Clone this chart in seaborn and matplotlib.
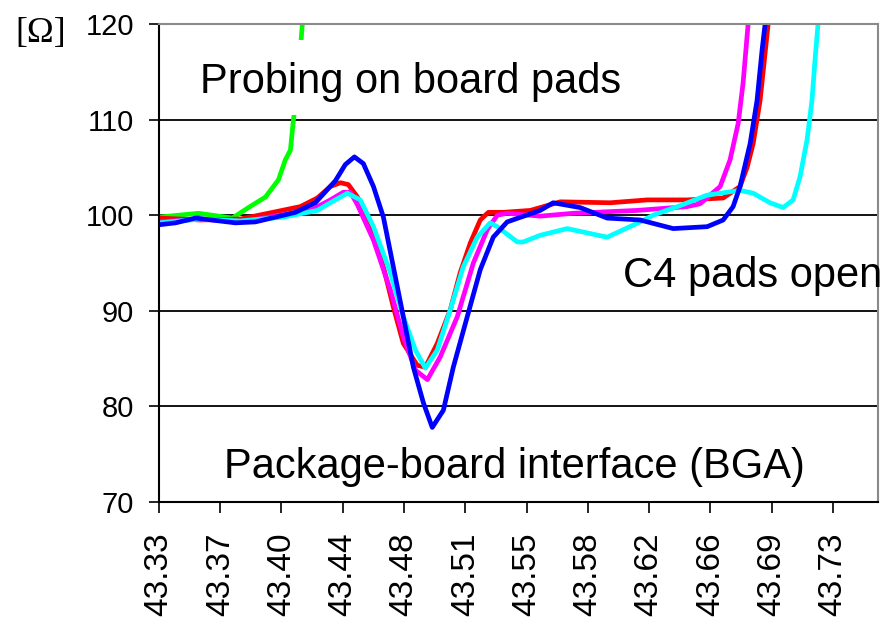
import matplotlib
matplotlib.use("Agg")
import matplotlib.pyplot as plt
import seaborn as sns
import pandas as pd
from matplotlib.patches import Rectangle

# ---------------- data ----------------
trace_names = ["green", "red", "magenta", "cyan", "blue"]
trace_colors = ["#00ff00", "#ff0000", "#ff00ff", "#00ffff", "#0000ff"]

green_x = [43.3300, 43.3534, 43.3736, 43.3831, 43.3932, 43.4009, 43.4050, 43.4080,
           43.4098, 43.4122, 43.4139, 43.4151, 43.4157]
green_y = [99.8, 100.2, 99.7, 100.8, 101.9, 103.7, 105.8, 106.8,
           110.0, 113.1, 117.3, 120.0, 120.9]

red_x = [43.3300, 43.3546, 43.3783, 43.4003, 43.4139, 43.4240, 43.4317, 43.4377,
         43.4424, 43.4478, 43.4573, 43.4632, 43.4691, 43.4750, 43.4833, 43.4881,
         43.4952, 43.5029, 43.5088, 43.5148, 43.5207, 43.5255, 43.5344, 43.5504,
         43.5682, 43.5978, 43.6198, 43.6435, 43.6649, 43.6749, 43.6791, 43.6827,
         43.6868, 43.6898, 43.6916, 43.6922]
red_y = [99.7, 99.5, 99.6, 100.4, 100.9, 101.8, 103.0, 103.4,
         103.2, 101.9, 98.1, 94.6, 90.4, 86.6, 84.3, 84.1,
         86.6, 90.1, 94.0, 97.1, 99.5, 100.3, 100.3, 100.5,
         101.4, 101.3, 101.6, 101.6, 101.8, 103.0, 105.0, 107.5,
         112.0, 117.0, 120.0, 120.9]

magenta_x = [43.3300, 43.3546, 43.3783, 43.4021, 43.4199, 43.4317, 43.4394, 43.4436,
             43.4478, 43.4573, 43.4673, 43.4750, 43.4822, 43.4893, 43.4970, 43.5071,
             43.5166, 43.5249, 43.5308, 43.5367, 43.5563, 43.5759, 43.6138, 43.6435,
             43.6512, 43.6631, 43.6690, 43.6738, 43.6767, 43.6797, 43.6803]
magenta_y = [99.3, 99.6, 99.3, 100.0, 100.5, 101.6, 102.4, 102.4,
             101.1, 97.4, 92.2, 87.3, 83.8, 82.8, 85.2, 89.4,
             95.0, 98.5, 100.0, 100.2, 99.9, 100.2, 100.5, 100.9,
             101.2, 103.0, 105.8, 109.6, 113.8, 120.0, 120.9]

cyan_x = [43.3300, 43.3546, 43.3783, 43.4039, 43.4240, 43.4317, 43.4418, 43.4495,
          43.4573, 43.4673, 43.4750, 43.4822, 43.4881, 43.4952, 43.5029, 43.5106,
          43.5189, 43.5266, 43.5308, 43.5427, 43.5462, 43.5563, 43.5723, 43.5960,
          43.6156, 43.6233, 43.6393, 43.6554, 43.6749, 43.6827, 43.6927, 43.7005,
          43.7064, 43.7105, 43.7147, 43.7176, 43.7194, 43.7212, 43.7218]
cyan_y = [99.2, 99.6, 99.4, 99.8, 100.5, 101.3, 102.3, 101.6,
          98.8, 94.0, 89.4, 85.9, 84.0, 85.9, 90.1, 94.6,
          97.7, 99.2, 98.8, 97.2, 97.2, 97.9, 98.6, 97.7,
          99.3, 100.0, 101.0, 102.1, 102.6, 102.3, 101.3, 100.8,
          101.6, 104.0, 107.9, 112.0, 116.2, 120.0, 120.9]

blue_x = [43.3300, 43.3398, 43.3517, 43.3754, 43.3872, 43.3991, 43.4110, 43.4228,
          43.4347, 43.4406, 43.4460, 43.4513, 43.4573, 43.4632, 43.4691, 43.4750,
          43.4810, 43.4869, 43.4922, 43.4988, 43.5047, 43.5130, 43.5207, 43.5284,
          43.5367, 43.5563, 43.5640, 43.5800, 43.5960, 43.6156, 43.6352, 43.6554,
          43.6649, 43.6708, 43.6749, 43.6809, 43.6850, 43.6880, 43.6898, 43.6904]
blue_y = [99.0, 99.2, 99.7, 99.2, 99.3, 99.8, 100.3, 101.3,
          103.6, 105.3, 106.1, 105.4, 103.0, 99.8, 94.6, 89.4,
          84.1, 80.4, 77.8, 79.6, 84.1, 89.4, 94.3, 97.7,
          99.3, 100.5, 101.3, 100.8, 99.7, 99.5, 98.6, 98.8,
          99.5, 100.9, 103.0, 107.5, 112.0, 117.3, 120.0, 120.9]

x_tick_values = [43.3300, 43.3664, 43.4027, 43.4391, 43.4755, 43.5118,
                 43.5482, 43.5845, 43.6209, 43.6573, 43.6936, 43.7300]
x_tick_labels = ["43.33", "43.37", "43.40", "43.44", "43.48", "43.51",
                 "43.55", "43.58", "43.62", "43.66", "43.69", "43.73"]
y_tick_values = [70, 80, 90, 100, 110, 120]

unit_label = "[Ω]"
label_probing = "Probing on board pads"
label_c4 = "C4 pads open"
label_bga = "Package-board interface (BGA)"

# ---------------- build table ----------------
series_x = [green_x, red_x, magenta_x, cyan_x, blue_x]
series_y = [green_y, red_y, magenta_y, cyan_y, blue_y]
frames = []
for name, xs, ys in zip(trace_names, series_x, series_y):
    frames.append(pd.DataFrame({"t": xs, "ohm": ys, "trace": name}))
df = pd.concat(frames, ignore_index=True)

# ---------------- plot ----------------
sns.set_style("white")
plt.rcParams["font.family"] = ["Liberation Sans", "DejaVu Sans"]
plt.rcParams["text.color"] = "black"
plt.rcParams["xtick.color"] = "black"
plt.rcParams["ytick.color"] = "black"
plt.rcParams["axes.labelcolor"] = "black"

fig = plt.figure(figsize=(8.87, 6.26), dpi=100)
ax = fig.add_axes([159 / 887, 1 - 502 / 626, 719 / 887, 478 / 626])

sns.lineplot(data=df, x="t", y="ohm", hue="trace", hue_order=trace_names,
             palette=dict(zip(trace_names, trace_colors)), estimator=None,
             sort=False, linewidth=3.4, legend=False, ax=ax)
for ln in ax.lines:
    ln.set_solid_capstyle("round")
    ln.set_solid_joinstyle("round")

ax.set_xlim(43.33, 43.7568)
ax.set_ylim(70, 120)
ax.set_xticks(x_tick_values)
ax.set_xticklabels(x_tick_labels, rotation=90, fontsize=24, color="black")
ax.set_yticks(y_tick_values)
ax.set_yticklabels([str(v) for v in y_tick_values], fontsize=21, color="black")
ax.set_xlabel("")
ax.set_ylabel("")

ax.yaxis.grid(True, color="black", linewidth=1.3)
ax.xaxis.grid(False)
ax.tick_params(axis="x", direction="out", length=8, width=1.2, color="black", pad=14, bottom=True)
ax.tick_params(axis="y", direction="out", length=7, width=1.2, color="black", pad=11, left=True)

for side in ["left", "bottom"]:
    ax.spines[side].set_color("black")
    ax.spines[side].set_linewidth(1.5)
for side in ["top", "right"]:
    ax.spines[side].set_color("#8a8a8a")
    ax.spines[side].set_linewidth(1.5)
    ax.spines[side].set_visible(True)

# white box behind the upper label
ax.add_patch(Rectangle((0.0236, 0.8096), 0.659, 0.157, transform=ax.transAxes,
                       facecolor="white", edgecolor="none", zorder=3))
ax.text(0.057, 0.8556, label_probing, transform=ax.transAxes, fontsize=30,
        ha="left", va="baseline", zorder=4, color="black")
ax.text(0.645, 0.4498, label_c4, transform=ax.transAxes, fontsize=30,
        ha="left", va="baseline", zorder=4, clip_on=False, color="black")
ax.text(0.0904, 0.0502, label_bga, transform=ax.transAxes, fontsize=30,
        ha="left", va="baseline", zorder=4, color="black")

fig.text(15 / 887, 1 - 42 / 626, unit_label, fontsize=26, color="black",
         family=["Liberation Serif", "DejaVu Serif"], ha="left", va="baseline")

fig.savefig("out.png", dpi=100, facecolor="white")
